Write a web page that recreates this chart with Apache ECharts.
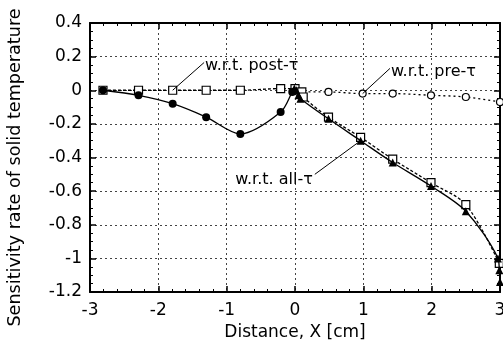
<!DOCTYPE html>
<html>
<head>
<meta charset="utf-8">
<script src="https://cdn.jsdelivr.net/npm/echarts@6/dist/echarts.min.js"></script>
<style>html,body{margin:0;padding:0;background:#fff;}#c{width:503px;height:343px;}</style>
</head>
<body>
<div id="c"></div>
<script>
// ---- data ----
const xTicks = [-3, -2, -1, 0, 1, 2, 3];
const yTicks = [0.4, 0.2, 0, -0.2, -0.4, -0.6, -0.8, -1, -1.2];

const allX = [-2.81, -2.29, -1.79, -1.30, -0.80, -0.21, -0.04, -0.01, 0.02, 0.05, 0.08, 0.49, 0.96, 1.43, 1.99, 2.50, 2.97, 2.99, 3.00];
const allY = [0.00, -0.03, -0.08, -0.16, -0.26, -0.13, -0.01, 0.01, 0.00, -0.03, -0.05, -0.17, -0.30, -0.43, -0.57, -0.72, -1.00, -1.07, -1.14];

const postX = [-2.81, -2.29, -1.79, -1.30, -0.80, -0.21, 0.00, 0.10, 0.12, 0.49, 0.96, 1.43, 1.99, 2.50, 2.99];
const postY = [0.00, 0.00, 0.00, 0.00, 0.00, 0.01, 0.01, -0.01, -0.04, -0.16, -0.28, -0.41, -0.55, -0.68, -1.03];

const preX = [0.00, 0.05, 0.49, 0.99, 1.43, 1.99, 2.50, 3.00];
const preY = [0.01, -0.01, -0.01, -0.02, -0.02, -0.03, -0.04, -0.07];

const labels = ['w.r.t. post-τ', 'w.r.t. pre-τ', 'w.r.t. all-τ'];

const FONT = 'DejaVu Sans';
const zip = (xs, ys) => xs.map((x, i) => [x, ys[i]]);

const chart = echarts.init(document.getElementById('c'), null, {renderer: 'canvas'});

const tickCommon = {
  axisTick: {show: true, inside: true, length: 6, lineStyle: {color: '#000', width: 1.5}},
  minorTick: {show: true, length: 3, lineStyle: {color: '#000', width: 1}},
};

const option = {
  animation: false,
  backgroundColor: '#fff',
  grid: {left: 90, right: 3, top: 23, bottom: 51, containLabel: false, outerBoundsMode: 'none'},
  xAxis: [{
    type: 'value', min: xTicks[0], max: xTicks[xTicks.length - 1], interval: 1, position: 'bottom',
    axisLine: {show: true, onZero: false, lineStyle: {color: '#000', width: 2}},
    axisTick: tickCommon.axisTick,
    minorTick: Object.assign({splitNumber: 5}, tickCommon.minorTick),
    splitLine: {show: true, lineStyle: {color: '#444', type: [2, 3], width: 1}},
    axisLabel: {color: '#000', fontFamily: FONT, fontSize: 17, margin: 10},
    name: 'Distance, X [cm]', nameLocation: 'middle', nameGap: 32,
    nameTextStyle: {color: '#000', fontFamily: FONT, fontSize: 17}
  }, {
    type: 'value', min: xTicks[0], max: xTicks[xTicks.length - 1], interval: 1, position: 'top',
    axisLine: {show: true, onZero: false, lineStyle: {color: '#000', width: 2}},
    axisTick: tickCommon.axisTick,
    minorTick: Object.assign({splitNumber: 5}, tickCommon.minorTick),
    splitLine: {show: false}, axisLabel: {show: false}
  }],
  yAxis: [{
    type: 'value', min: yTicks[yTicks.length - 1], max: yTicks[0], interval: 0.2, position: 'left',
    axisLine: {show: true, onZero: false, lineStyle: {color: '#000', width: 2}},
    axisTick: tickCommon.axisTick,
    minorTick: Object.assign({splitNumber: 4}, tickCommon.minorTick),
    splitLine: {show: true, lineStyle: {color: '#444', type: [2, 3], width: 1}},
    axisLabel: {color: '#000', fontFamily: FONT, fontSize: 17, margin: 8,
      formatter: v => String(Math.round(v * 10) / 10)},
    name: 'Sensitivity rate of solid temperature', nameLocation: 'middle', nameGap: 66,
    nameTextStyle: {color: '#000', fontFamily: FONT, fontSize: 17.6, padding: [0, 20, 0, 0]}
  }, {
    type: 'value', min: yTicks[yTicks.length - 1], max: yTicks[0], interval: 0.2, position: 'right',
    axisLine: {show: true, onZero: false, lineStyle: {color: '#000', width: 2}},
    axisTick: tickCommon.axisTick,
    minorTick: Object.assign({splitNumber: 4}, tickCommon.minorTick),
    splitLine: {show: false}, axisLabel: {show: false}
  }],
  series: [{
    name: 'pre', type: 'line', data: zip(preX, preY), smooth: 0.3, z: 2,
    lineStyle: {color: '#000', width: 1.3, type: [2, 3]},
    symbol: 'circle', symbolSize: 7, showAllSymbol: true,
    itemStyle: {color: '#fff', borderColor: '#000', borderWidth: 1.2}
  }, {
    name: 'post', type: 'line', data: zip(postX, postY), smooth: 0.3, z: 3,
    lineStyle: {color: '#000', width: 1.3, type: [3, 2]},
    symbol: 'rect', symbolSize: 8, showAllSymbol: true,
    itemStyle: {color: '#fff', borderColor: '#000', borderWidth: 1.2}
  }, {
    name: 'all', type: 'line', data: zip(allX, allY), smooth: 0.3, z: 4,
    lineStyle: {color: '#000', width: 1.3},
    symbol: v => (v[0] < -0.02 ? 'circle' : 'triangle'), symbolSize: 8, showAllSymbol: true,
    itemStyle: {color: '#000', borderColor: '#000', borderWidth: 0}
  }]
};
chart.setOption(option);

// ---- annotations (leader lines placed in data coordinates) ----
const notes = [
  {from: [-1.79, 0.0], to: [-1.33, 0.165], text: labels[0], align: 'left'},
  {from: [0.99, -0.02], to: [1.39, 0.13], text: labels[1], align: 'left'},
  {from: [0.96, -0.30], to: [0.29, -0.50], text: labels[2], align: 'right'}
];
const g = [];
notes.forEach(n => {
  const a = chart.convertToPixel({xAxisIndex: 0, yAxisIndex: 0}, n.from);
  const b = chart.convertToPixel({xAxisIndex: 0, yAxisIndex: 0}, n.to);
  g.push({type: 'line', shape: {x1: a[0], y1: a[1], x2: b[0], y2: b[1]}, style: {stroke: '#000', lineWidth: 1}, z: 10});
  g.push({type: 'text', x: b[0] + (n.align === 'left' ? 1 : -2), y: b[1] + (n.align === 'left' ? 3 : 6),
    style: {text: n.text, fill: '#000', font: '16px "' + FONT + '"', textAlign: n.align, textVerticalAlign: 'middle'}, z: 11});
});
chart.setOption({graphic: g});
</script>
</body>
</html>
